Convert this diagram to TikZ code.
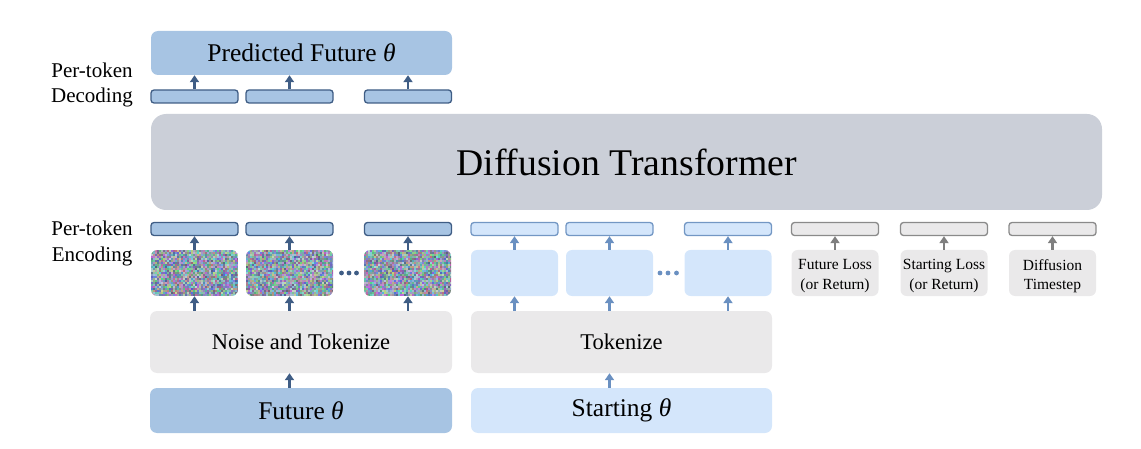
\documentclass[tikz,border=0pt]{standalone}
\usepackage{fontspec}
\setmainfont{Liberation Serif}
\usetikzlibrary{arrows.meta}
\definecolor{dbfill}{HTML}{A7C4E3}
\definecolor{dbline}{HTML}{3F5D85}
\definecolor{lbfill}{HTML}{D4E6FB}
\definecolor{lbline}{HTML}{7397C4}
\definecolor{lbarrow}{HTML}{6A90C1}
\definecolor{gyfill}{HTML}{EAE9EA}
\definecolor{gyline}{HTML}{8A8A8A}
\definecolor{gyarrow}{HTML}{7F7F7F}
\definecolor{dtfill}{HTML}{CBCFD8}
\tikzset{
  box/.style={rounded corners=7pt, inner sep=0pt, align=center},
  tok/.style={rounded corners=3pt, line width=1.3pt, minimum width=87pt, minimum height=13pt, inner sep=0pt},
  dtok/.style={tok, fill=dbfill, draw=dbline},
  ltok/.style={tok, fill=lbfill, draw=lbline},
  gtok/.style={tok, fill=gyfill, draw=gyline},
  tile/.style={rounded corners=6pt, minimum width=87pt, minimum height=46pt, inner sep=0pt},
  tiletext/.style={font=\fontsize{15.5}{19.5}\selectfont, align=center, inner sep=0pt},
  arr/.style={line width=2.2pt, -{Triangle[width=9pt,length=7pt]}},
  darr/.style={arr, draw=dbline},
  larr/.style={arr, draw=lbarrow},
  garr/.style={arr, draw=gyarrow},
  lab/.style={font=\fontsize{21}{25.5}\selectfont, align=center, inner sep=0pt},
}
\begin{document}
\begin{tikzpicture}[x=1pt,y=-1pt]
\useasboundingbox (0,0) rectangle (1141,449);
% top
\node[box, fill=dbfill, minimum width=301pt, minimum height=44pt, font=\fontsize{25.5}{30}\selectfont] (pred) at (301.5,53) {Predicted Future {\itshape θ}};
\node[lab] (declab) at (92,85) {Per-token\\Decoding};
\node[dtok] (d1) at (194.5,96.5) {};
\node[dtok] (d2) at (289.5,96.5) {};
\node[dtok] (d3) at (408,96.5) {};
\draw[darr] (d1.north) -- (d1.north |- pred.south);
\draw[darr] (d2.north) -- (d2.north |- pred.south);
\draw[darr] (d3.north) -- (d3.north |- pred.south);
% transformer
\node[box, rounded corners=15pt, fill=dtfill, minimum width=951pt, minimum height=96pt, font=\fontsize{37.7}{45}\selectfont] (dt) at (626.5,162) {Diffusion Transformer};
% encoding
\node[lab] (enclab) at (92,243.5) {Per-token\\Encoding};
\node[dtok] (e1) at (194.5,229) {};
\node[dtok] (e2) at (289.5,229) {};
\node[dtok] (e3) at (408,229) {};
\node[ltok] (e4) at (514.5,229) {};
\node[ltok] (e5) at (609.5,229) {};
\node[ltok] (e6) at (728,229) {};
\node[gtok] (e7) at (835,229) {};
\node[gtok] (e8) at (944,229) {};
\node[gtok] (e9) at (1052.5,229) {};
% noise tiles
\pgfmathsetseed{7}
\foreach \tx in {151,246,364}{
  \begin{scope}
    \clip[rounded corners=6pt] (\tx,250) rectangle ++(87,46);
    \foreach \i in {0,...,43}{
      \foreach \j in {0,...,22}{
        \pgfmathrandominteger{\rr}{80}{200}
        \pgfmathrandominteger{\gg}{95}{215}
        \pgfmathrandominteger{\bb}{120}{225}
        \definecolor{nz}{RGB}{\rr,\gg,\bb}
        \fill[nz] (\tx+\i*2,250+\j*2) rectangle ++(2,2);
      }
    }
  \end{scope}
}
\node[tile] (t1) at (194.5,273) {};
\node[tile] (t2) at (289.5,273) {};
\node[tile] (t3) at (408,273) {};
\node[tile, fill=lbfill] (t4) at (514.5,273) {};
\node[tile, fill=lbfill] (t5) at (609.5,273) {};
\node[tile, fill=lbfill] (t6) at (728,273) {};
\node[tile, fill=gyfill] (t7) at (835,273) {};
\node[tile, fill=gyfill] (t8) at (944,273) {};
\node[tile, fill=gyfill] (t9) at (1052.5,273) {};
\node[tiletext] (t7txt) at (835,276) {Future Loss\\(or Return)};
\node[tiletext] (t8txt) at (944,276) {Starting Loss\\(or Return)};
\node[tiletext] (t9txt) at (1052.5,276) {Diffusion\\Timestep};
\foreach \k in {1,2,3}{\draw[darr] (t\k.north) -- (e\k.south);}
\foreach \k in {4,5,6}{\draw[larr] (t\k.north) -- (e\k.south);}
\foreach \k in {7,8,9}{\draw[garr] (t\k.north) -- (e\k.south);}
% dots
\foreach \x in {341.5,349,356.5}{\fill[dbline] (\x,273) circle (2.4pt);}
\foreach \x in {660,668,676.5}{\fill[lbarrow] (\x,273) circle (2.4pt);}
% bottom
\node[box, fill=gyfill, minimum width=302pt, minimum height=62pt, font=\fontsize{22.5}{27}\selectfont] (noise) at (301,342) {Noise and Tokenize};
\node[box, fill=gyfill, minimum width=301pt, minimum height=62pt, font=\fontsize{22.5}{27}\selectfont] (tokz) at (621.5,342) {Tokenize};
\node[box, fill=dbfill, minimum width=302pt, minimum height=45pt, font=\fontsize{25.5}{30}\selectfont] (fut) at (301,410.5) {Future {\itshape θ}};
\node[box, fill=lbfill, minimum width=301pt, minimum height=45pt, font=\fontsize{25.5}{30}\selectfont] (start) at (621.5,410.5) {Starting {\itshape θ}};
\foreach \k in {1,2,3}{\draw[darr] (noise.north -| t\k) -- (t\k.south);}
\foreach \k in {4,5,6}{\draw[larr] (tokz.north -| t\k) -- (t\k.south);}
\draw[darr] (fut.north -| t2) -- (noise.south -| t2);
\draw[larr] (start.north -| t5) -- (tokz.south -| t5);
\end{tikzpicture}
\end{document}
